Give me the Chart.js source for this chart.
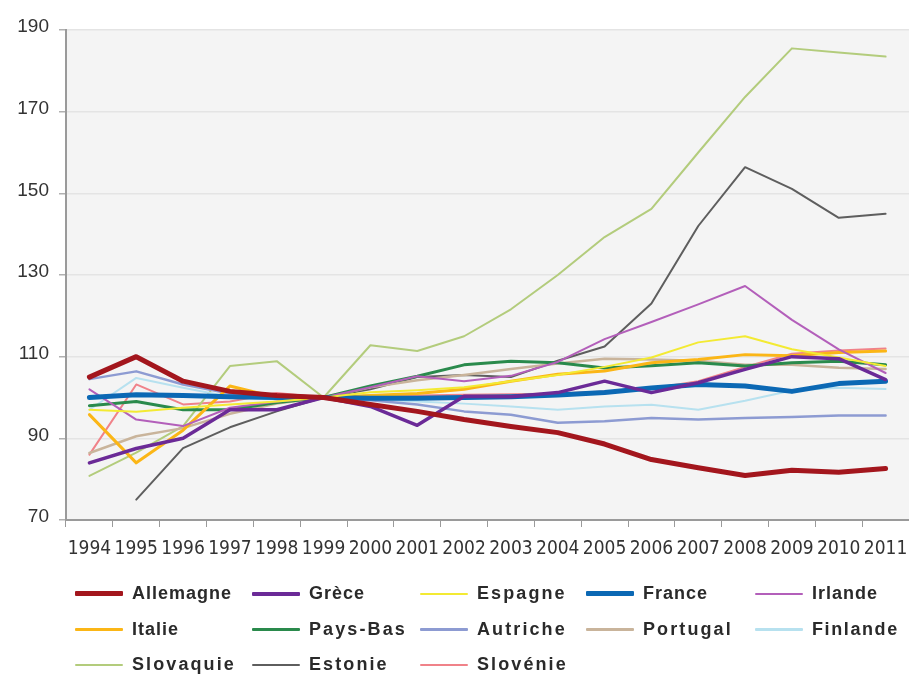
<!DOCTYPE html>
<html>
<head>
<meta charset="utf-8">
<script src="https://cdn.jsdelivr.net/npm/chart.js@4.4.1/dist/chart.umd.min.js"></script>
<style>
  html, body { margin: 0; padding: 0; background: #ffffff; }
  #wrap { position: relative; width: 909px; height: 674px; overflow: hidden; }
  #c { position: absolute; left: 0; top: 0; }
  #legend { position: absolute; left: 75px; top: 576px; display: grid;
    grid-template-columns: 177px 168px 166px 169px 150px; grid-auto-rows: 35.5px; }
  .item { display: flex; align-items: center; white-space: nowrap;
    font-family: "Liberation Sans", Arial, sans-serif; font-weight: bold; font-size: 18px; color: #2a2a2a; }
  .swatch { width: 48px; margin-right: 9px; border-radius: 1px; }
</style>
</head>
<body>
<div id="wrap">
  <canvas id="c" width="909" height="674"></canvas>
  <div id="legend"></div>
</div>
<script>
const years = ['1994','1995','1996','1997','1998','1999','2000','2001','2002','2003','2004','2005','2006','2007','2008','2009','2010','2011'];
const yTicks = [70, 90, 110, 130, 150, 170, 190];

const allemagne = [105, 110, 104, 101.5, 100.5, 100, 98.3, 96.6, 94.6, 92.9, 91.4, 88.6, 84.8, 82.8, 80.9, 82.2, 81.7, 82.6];
const grece     = [84, 87.5, 90, 97, 97, 100, 97.8, 93.2, 100.3, 100.2, 101.2, 104, 101.2, 103.6, 106.9, 110, 109.5, 104.4];
const espagne   = [97, 96.5, 97.5, 98.3, 99, 100, 101.3, 101.8, 102.5, 104, 105.5, 107.5, 109.8, 113.5, 115, 111.8, 109.8, 107.7];
const france    = [100, 100.7, 100.5, 100.2, 100, 100, 99.8, 99.8, 100, 100.2, 100.6, 101.2, 102.3, 103.2, 102.8, 101.5, 103.4, 104];
const irlande   = [102, 94.6, 93, 97.5, 99, 100, 102.5, 105.2, 104, 105.3, 108.7, 114.3, 118.5, 122.8, 127.3, 119, 111.8, 106];
const italie    = [95.8, 84, 92, 102.8, 100, 100, 100.5, 101, 102, 104, 105.7, 106.5, 108.5, 109.3, 110.5, 110.2, 111, 111.4];
const paysBas   = [98, 99, 97, 97, 98.8, 100, 102.8, 105.2, 108, 108.9, 108.5, 107.2, 107.8, 108.5, 107.7, 108.5, 108.9, 108];
const autriche  = [104.5, 106.4, 103.2, 101, 100.3, 100, 99.3, 98.3, 96.6, 95.8, 93.8, 94.2, 95, 94.6, 95, 95.2, 95.6, 95.6];
const portugal  = [86.4, 90.5, 92.5, 96, 98.5, 100, 102.5, 104.2, 105.5, 107, 108.3, 109.5, 109.3, 109, 108, 108, 107.3, 107];
const finlande  = [97, 104.8, 102.4, 100.2, 99.6, 100, 99.5, 99, 98.5, 97.8, 97, 97.8, 98.2, 97, 99.2, 101.7, 102.4, 102.1];
const slovaquie = [80.8, 86.5, 93, 107.7, 108.9, 100, 112.8, 111.4, 115, 121.6, 130, 139.3, 146.2, 160, 173.6, 185.5, 184.5, 183.5];
const estonie   = [null, 75, 87.6, 92.7, 96.6, 100, 102, 105, 105.5, 105, 109, 112.5, 123, 142, 156.4, 151.1, 144, 145];
const slovenie  = [86, 103.2, 98.3, 99, 101.1, 100, 100.5, 100.5, 100.7, 100.8, 101, 101.5, 102.2, 104, 107.5, 110.7, 111.5, 112];

const seriesNames = ['Allemagne','Grèce','Espagne','France','Irlande','Italie','Pays-Bas','Autriche','Portugal','Finlande','Slovaquie','Estonie','Slovénie'];
const seriesValues = [allemagne, grece, espagne, france, irlande, italie, paysBas, autriche, portugal, finlande, slovaquie, estonie, slovenie];

// styles (kept apart from the data)
const styles = {
  'Allemagne': { color: '#a3161d', width: 5,   legendWidth: 5,   spacing: 1 },
  'Grèce':     { color: '#6b2a97', width: 3.5, legendWidth: 4,   spacing: 1 },
  'Espagne':   { color: '#f3ea33', width: 2,   legendWidth: 2,   spacing: 2.1 },
  'France':    { color: '#0b68b4', width: 5,   legendWidth: 5,   spacing: 1 },
  'Irlande':   { color: '#b35fba', width: 2,   legendWidth: 2.5, spacing: 1 },
  'Italie':    { color: '#fbb616', width: 3,   legendWidth: 3,   spacing: 1 },
  'Pays-Bas':  { color: '#2a8a4c', width: 3,   legendWidth: 3.5, spacing: 2.1 },
  'Autriche':  { color: '#8d9bd2', width: 2.5, legendWidth: 3,   spacing: 2.1 },
  'Portugal':  { color: '#c9b49b', width: 2.5, legendWidth: 3,   spacing: 2.1 },
  'Finlande':  { color: '#b7e1ef', width: 2,   legendWidth: 2.5, spacing: 1.6 },
  'Slovaquie': { color: '#b3cc7c', width: 2,   legendWidth: 2.5, spacing: 2.1 },
  'Estonie':   { color: '#5e5e5e', width: 2,   legendWidth: 2.5, spacing: 2.1 },
  'Slovénie':  { color: '#f08289', width: 2,   legendWidth: 2.5, spacing: 2.1 }
};

const datasets = seriesNames.map((name, i) => ({
  label: name,
  data: seriesValues[i],
  borderColor: styles[name].color,
  backgroundColor: styles[name].color,
  borderWidth: styles[name].width,
  pointRadius: 0,
  pointHoverRadius: 0,
  tension: 0,
  fill: false,
  borderJoinStyle: 'round',
  borderCapStyle: 'round',
  spanGaps: false
}));

const plotBg = {
  id: 'plotBg',
  beforeDraw(chart) {
    const { ctx, chartArea: { left, top, right, bottom } } = chart;
    ctx.save();
    ctx.fillStyle = '#f4f4f4';
    ctx.fillRect(left, top, right - left, bottom - top);
    ctx.restore();
  }
};

const chart = new Chart(document.getElementById('c'), {
  type: 'line',
  data: { labels: years, datasets },
  plugins: [plotBg],
  options: {
    responsive: false,
    animation: false,
    devicePixelRatio: 1,
    layout: { padding: { top: 30, right: 0, bottom: 114, left: 0 } },
    plugins: { legend: { display: false }, tooltip: { enabled: false } },
    scales: {
      x: {
        type: 'category',
        offset: true,
        afterFit(scale) { scale.height = 40; scale.paddingLeft = 0; scale.paddingRight = 0; },
        grid: { offset: true, drawOnChartArea: false, tickLength: 7, tickColor: '#9a9a9a', tickWidth: 1 },
        border: { color: '#9a9a9a', width: 2 },
        ticks: {
          autoSkip: false, maxRotation: 0, minRotation: 0, padding: 11,
          color: '#333333',
          font: { family: '"Liberation Sans Narrow", "DejaVu Sans Condensed", "Liberation Sans", sans-serif', size: 19 }
        }
      },
      y: {
        min: 70, max: 190,
        afterFit(scale) { scale.width = 66; },
        afterBuildTicks(scale) { scale.ticks = yTicks.map(v => ({ value: v })); },
        grid: { color: '#e4e4e4', lineWidth: 1.5, tickLength: 7, tickColor: '#b0b0b0' },
        border: { color: '#9a9a9a', width: 2 },
        ticks: {
          padding: 10, color: '#333333', labelOffset: -3,
          font: { family: '"Liberation Sans", Arial, sans-serif', size: 19 }
        }
      }
    }
  }
});

// HTML legend built from the chart's datasets
const legendEl = document.getElementById('legend');
chart.data.datasets.forEach(ds => {
  const st = styles[ds.label];
  const item = document.createElement('div');
  item.className = 'item';
  const sw = document.createElement('span');
  sw.className = 'swatch';
  sw.style.height = st.legendWidth + 'px';
  sw.style.background = ds.borderColor;
  const tx = document.createElement('span');
  tx.textContent = ds.label;
  tx.style.letterSpacing = st.spacing + 'px';
  item.appendChild(sw);
  item.appendChild(tx);
  legendEl.appendChild(item);
});
</script>
</body>
</html>
